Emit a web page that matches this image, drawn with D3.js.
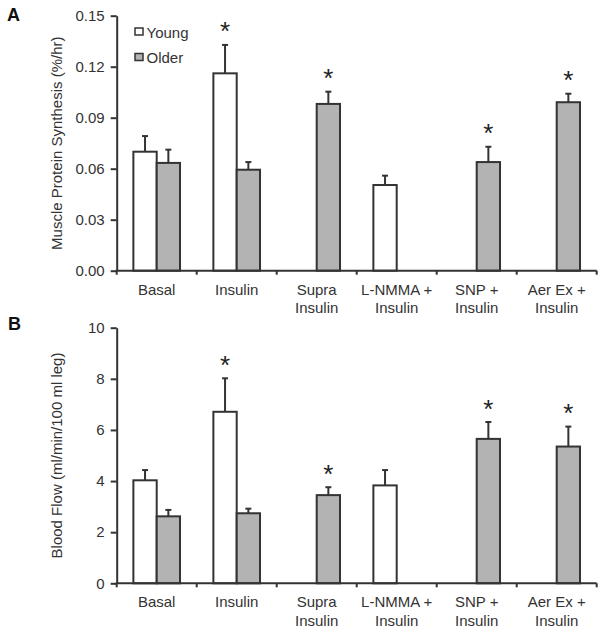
<!DOCTYPE html>
<html>
<head>
<meta charset="utf-8">
<script src="https://cdn.jsdelivr.net/npm/d3@7"></script>
<style>
  html, body { margin: 0; padding: 0; background: #fff; }
  svg { display: block; font-family: "Liberation Sans", Arial, sans-serif; }
</style>
</head>
<body>
<svg id="chart" width="604" height="633"></svg>
<script>
// ---- data ----
const categories = ["Basal", "Insulin", "Supra Insulin", "L-NMMA + Insulin", "SNP + Insulin", "Aer Ex + Insulin"];
const categoryLines = [["Basal"], ["Insulin"], ["Supra", "Insulin"], ["L-NMMA +", "Insulin"], ["SNP +", "Insulin"], ["Aer Ex +", "Insulin"]];
const groups = ["Young", "Older"];

const mpsYoung    = [0.0700, 0.1161, null, 0.0504, null, null];
const mpsYoungErr = [0.0092, 0.0167, null, 0.0055, null, null];
const mpsOlder    = [0.0634, 0.0594, 0.0981, null, 0.0639, 0.0991];
const mpsOlderErr = [0.0078, 0.0045, 0.0072, null, 0.0090, 0.0050];
const mpsYoungSig = [false, true, false, false, false, false];
const mpsOlderSig = [false, false, true, false, true, true];
const mpsTicks = [0, 0.03, 0.06, 0.09, 0.12, 0.15];

const bfYoung    = [4.03, 6.71, null, 3.83, null, null];
const bfYoungErr = [0.40, 1.31, null, 0.60, null, null];
const bfOlder    = [2.62, 2.74, 3.45, null, 5.65, 5.35];
const bfOlderErr = [0.25, 0.18, 0.31, null, 0.66, 0.78];
const bfYoungSig = [false, true, false, false, false, false];
const bfOlderSig = [false, false, true, false, true, true];
const bfTicks = [0, 2, 4, 6, 8, 10];

const fills = { Young: "#ffffff", Older: "#b3b3b3" };
const ink = "#333333";

const svg = d3.select("#chart");

function panel(opts) {
  const { top, bottom, left, right, domainMax, ticks, fmt, title, letter, young, youngErr, older, olderErr, youngSig, olderSig, legend } = opts;
  const g = svg.append("g");
  const x = d3.scaleBand().domain(categories).range([left, right]).padding(0);
  const xs = d3.scaleBand().domain(groups).range([x.bandwidth() * 0.2085, x.bandwidth() * 0.7915]).padding(0);
  const y = d3.scaleLinear().domain([0, domainMax]).range([bottom, top]);

  const rows = [];
  categories.forEach((c, i) => {
    if (young[i] != null) rows.push({ c, grp: "Young", v: young[i], e: youngErr[i], sig: youngSig[i] });
    if (older[i] != null) rows.push({ c, grp: "Older", v: older[i], e: olderErr[i], sig: olderSig[i] });
  });

  // error bars (behind bars)
  const eb = g.append("g").attr("stroke", ink).attr("stroke-width", 2);
  rows.forEach(d => {
    const cx = x(d.c) + xs(d.grp) + xs.bandwidth() / 2;
    eb.append("line").attr("x1", cx).attr("x2", cx).attr("y1", y(d.v)).attr("y2", y(d.v + d.e));
    eb.append("line").attr("x1", cx - 3).attr("x2", cx + 3).attr("y1", y(d.v + d.e)).attr("y2", y(d.v + d.e));
  });

  // bars
  g.append("g").selectAll("rect").data(rows).join("rect")
    .attr("x", d => x(d.c) + xs(d.grp))
    .attr("y", d => y(d.v))
    .attr("width", xs.bandwidth())
    .attr("height", d => y(0) - y(d.v))
    .attr("fill", d => fills[d.grp])
    .attr("stroke", ink)
    .attr("stroke-width", 2);

  // asterisks
  g.append("g").selectAll("text").data(rows.filter(d => d.sig)).join("text")
    .attr("x", d => x(d.c) + xs(d.grp) + xs.bandwidth() / 2)
    .attr("y", d => y(d.v + d.e) - 19.5 + 15)
    .attr("text-anchor", "middle")
    .attr("font-size", 26)
    .attr("fill", "#222")
    .text("*");

  // y axis
  const ya = g.append("g").attr("transform", `translate(${left},0)`)
    .call(d3.axisLeft(y).tickValues(ticks).tickFormat(fmt).tickSize(6).tickSizeOuter(0).tickPadding(6));
  ya.select(".domain").attr("stroke", ink).attr("stroke-width", 2);
  ya.selectAll(".tick line").attr("stroke", ink).attr("stroke-width", 2);
  ya.selectAll(".tick text").attr("font-size", 15).attr("fill", ink).attr("font-family", "Liberation Sans, Arial, sans-serif");

  // x axis
  const xa = g.append("g").attr("transform", `translate(0,${bottom})`);
  xa.append("line").attr("x1", left - 1).attr("x2", right).attr("y1", 0).attr("y2", 0)
    .attr("stroke", ink).attr("stroke-width", 2);
  const bounds = categories.map(c => x(c)).concat([right]);
  xa.selectAll("line.tk").data(bounds).join("line").attr("class", "tk")
    .attr("x1", d => d).attr("x2", d => d).attr("y1", 0).attr("y2", 4)
    .attr("stroke", ink).attr("stroke-width", 2);
  categories.forEach((c, i) => {
    const t = xa.append("text")
      .attr("x", x(c) + x.bandwidth() / 2)
      .attr("y", 24)
      .attr("text-anchor", "middle")
      .attr("font-size", 15)
      .attr("fill", ink);
    categoryLines[i].forEach((ln, j) => {
      t.append("tspan").attr("x", x(c) + x.bandwidth() / 2).attr("dy", j === 0 ? 0 : 18.5).text(ln);
    });
  });

  // y title
  g.append("text")
    .attr("transform", `translate(61.5,${(top + bottom) / 2}) rotate(-90)`)
    .attr("text-anchor", "middle")
    .attr("font-size", 15)
    .attr("fill", ink)
    .text(title);

  // panel letter
  g.append("text")
    .attr("x", letter.x).attr("y", letter.y)
    .attr("font-size", 18).attr("font-weight", "bold").attr("fill", "#111")
    .text(letter.t);

  if (legend) {
    groups.forEach((grp, i) => {
      const ly = legend.y + i * 25.5;
      g.append("rect").attr("x", legend.x).attr("y", ly).attr("width", 8).attr("height", 7)
        .attr("fill", fills[grp]).attr("stroke", ink).attr("stroke-width", 1.5);
      g.append("text").attr("x", legend.x + 11.5).attr("y", ly + 9.5)
        .attr("font-size", 15).attr("fill", ink).text(grp);
    });
  }
}

panel({
  top: 15.7, bottom: 270.7, left: 116.7, right: 596.7, domainMax: 0.15,
  ticks: mpsTicks, fmt: d3.format(".2f"),
  title: "Muscle Protein Synthesis (%/hr)",
  letter: { t: "A", x: 7, y: 20.5 },
  young: mpsYoung, youngErr: mpsYoungErr, older: mpsOlder, olderErr: mpsOlderErr,
  youngSig: mpsYoungSig, olderSig: mpsOlderSig,
  legend: { x: 135, y: 28 }
});

panel({
  top: 327.7, bottom: 583.3, left: 116.7, right: 596.7, domainMax: 10,
  ticks: bfTicks, fmt: d3.format("d"),
  title: "Blood Flow (ml/min/100 ml leg)",
  letter: { t: "B", x: 8, y: 330 },
  young: bfYoung, youngErr: bfYoungErr, older: bfOlder, olderErr: bfOlderErr,
  youngSig: bfYoungSig, olderSig: bfOlderSig,
  legend: null
});
</script>
</body>
</html>
